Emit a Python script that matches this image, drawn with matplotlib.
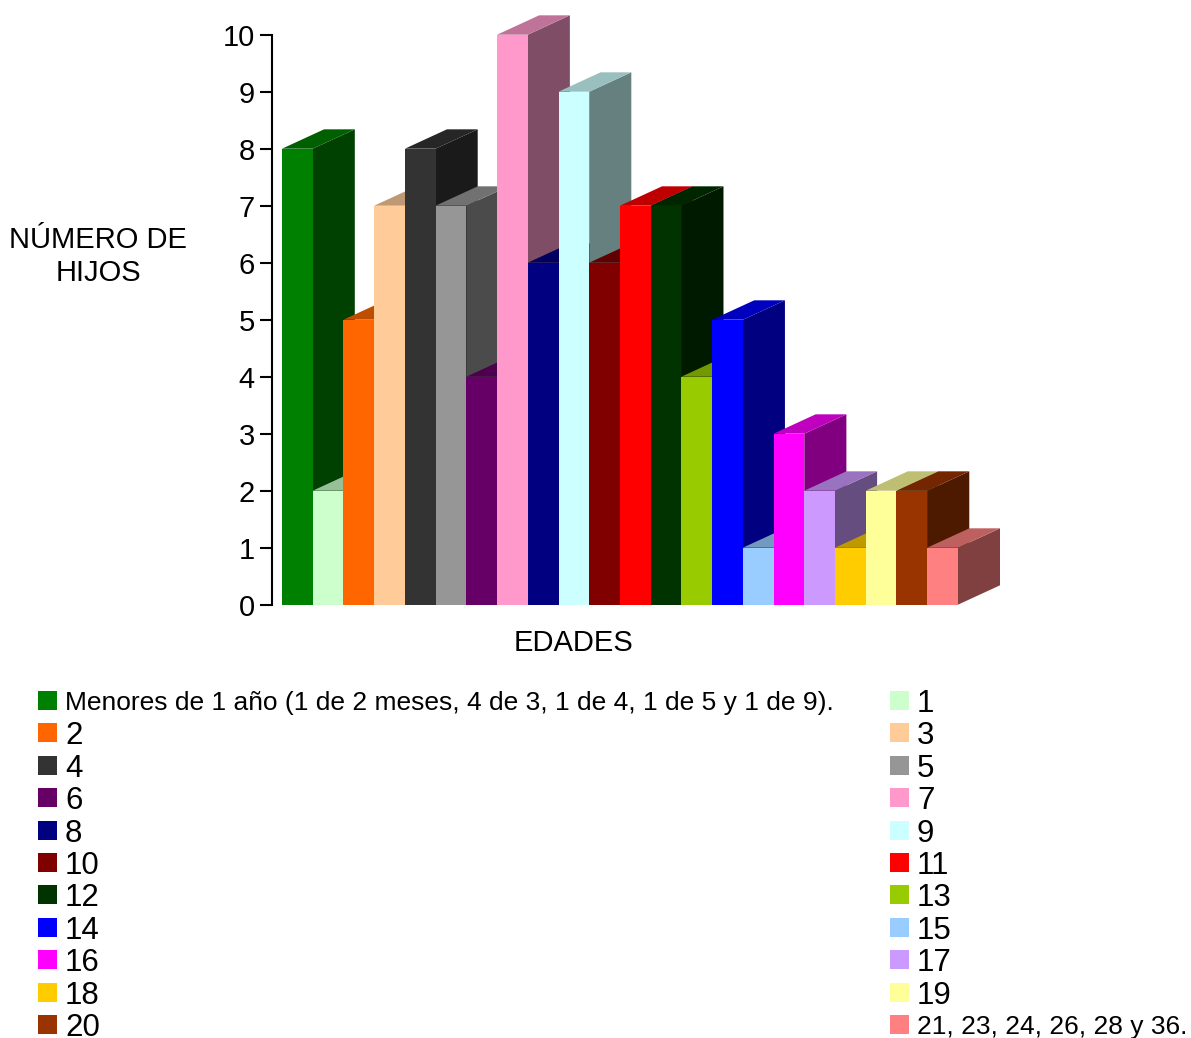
import matplotlib
matplotlib.use("Agg")
import matplotlib.pyplot as plt
from matplotlib.colors import to_rgb
from matplotlib.patches import Polygon, Rectangle

plt.rcParams["font.family"] = ["Liberation Sans", "DejaVu Sans"]

# datos del gráfico
etiquetas = [
    "Menores de 1 año (1 de 2 meses, 4 de 3, 1 de 4, 1 de 5 y 1 de 9).",
    "1", "2", "3", "4", "5", "6", "7", "8", "9", "10", "11", "12", "13",
    "14", "15", "16", "17", "18", "19", "20", "21, 23, 24, 26, 28 y 36.",
]
hijos = [8, 2, 5, 7, 8, 7, 4, 10, 6, 9, 6, 7, 7, 4, 5, 1, 3, 2, 1, 2, 2, 1]
colores = [
    "#008000", "#CCFFCC", "#FF6600", "#FFCC99", "#333333", "#969696",
    "#660066", "#FF99CC", "#000080", "#CCFFFF", "#800000", "#FF0000",
    "#003300", "#99CC00", "#0000FF", "#99CCFF", "#FF00FF", "#CC99FF",
    "#FFCC00", "#FFFF99", "#993300", "#FF8080",
]
yticks = list(range(0, 11))

W, H = 1191, 1038
fig = plt.figure(figsize=(W / 100, H / 100), dpi=100)

# ejes en pixeles de la imagen
ax_l, ax_r, ax_t, ax_b = 271.7, 1000.0, 34.7, 604.7
ax = fig.add_axes([ax_l / W, 1 - ax_b / H, (ax_r - ax_l) / W, (ax_b - ax_t) / H])

DX, DY = 1.37, 0.34  # profundidad 3D en unidades de datos
n = len(hijos)
ax.set_xlim(-0.335, n + DX)
ax.set_ylim(0, 10)


def sombra(c, f):
    r, g, b = to_rgb(c)
    return (r * f, g * f, b * f)


for i, (v, c) in enumerate(zip(hijos, colores)):
    x0, x1 = i, i + 1
    lado = [(x1, 0), (x1 + DX, DY), (x1 + DX, v + DY), (x1, v)]
    techo = [(x0, v), (x1, v), (x1 + DX, v + DY), (x0 + DX, v + DY)]
    frente = [(x0, 0), (x1, 0), (x1, v), (x0, v)]
    ax.add_patch(Polygon(lado, closed=True, fc=sombra(c, 0.5), ec="none", clip_on=False))
    ax.add_patch(Polygon(techo, closed=True, fc=sombra(c, 0.75), ec="none", clip_on=False))
    ax.add_patch(Polygon(frente, closed=True, fc=c, ec="none", clip_on=False))

for s in ["top", "right", "bottom"]:
    ax.spines[s].set_visible(False)
ax.spines["left"].set_linewidth(1.5)
ax.set_xticks([])
ax.set_yticks(yticks)
ax.tick_params(axis="y", length=8.6, width=1.5, pad=3.5, labelsize=21)

ax.set_ylabel("NÚMERO DE\nHIJOS", rotation=0, fontsize=21, ha="center", va="center",
              linespacing=1.2)
ax.yaxis.set_label_coords((98 - ax_l) / (ax_r - ax_l), (ax_b - 256.5) / (ax_b - ax_t))
ax.set_xlabel("EDADES", fontsize=21, ha="center", va="center")
ax.xaxis.set_label_coords((574 - ax_l) / (ax_r - ax_l), (ax_b - 642.7) / (ax_b - ax_t))

# leyenda en dos columnas (orden por filas)
fila0, paso = 700.5, 32.4
col_x = [38, 890]
for k, (txt, c) in enumerate(zip(etiquetas, colores)):
    fila, col = divmod(k, 2)
    yc = fila0 + fila * paso
    x = col_x[col]
    fig.add_artist(Rectangle((x / W, 1 - (yc + 9.5) / H), 19 / W, 19 / H,
                             transform=fig.transFigure, fc=c, ec="none"))
    fs = 19 if len(txt) > 3 else 22.5
    fig.text((x + 27) / W, 1 - yc / H, txt, fontsize=fs, ha="left", va="center_baseline")

fig.savefig("out.png", dpi=100)
